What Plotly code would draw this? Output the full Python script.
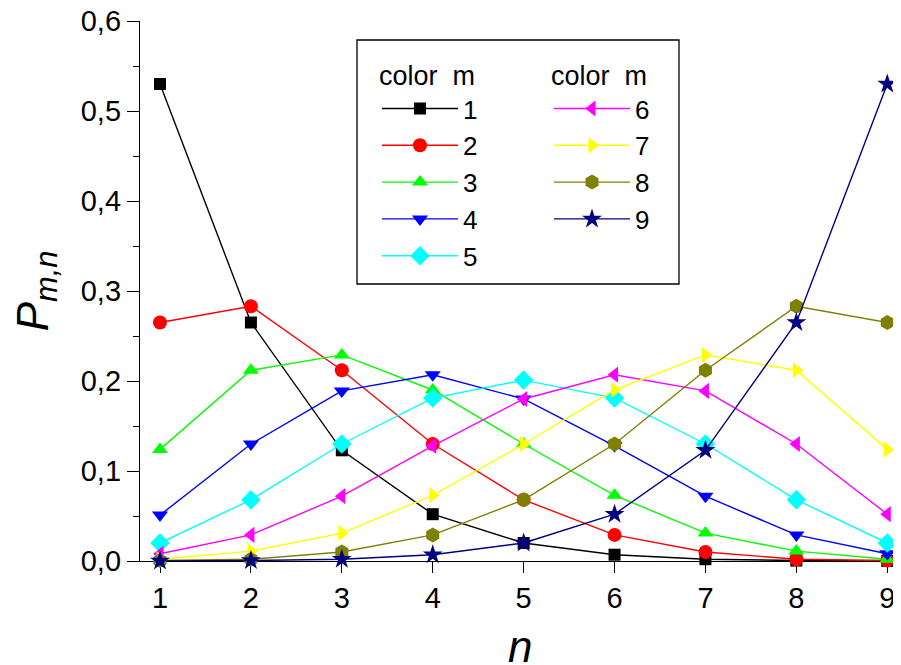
import plotly.graph_objects as go

n_values = [1, 2, 3, 4, 5, 6, 7, 8, 9]
m_labels = ["1", "2", "3", "4", "5", "6", "7", "8", "9"]

p_m1 = [0.530, 0.265, 0.123, 0.052, 0.020, 0.007, 0.002, 0.0005, 0.0001]
p_m2 = [0.265, 0.283, 0.212, 0.130, 0.068, 0.029, 0.010, 0.002, 0.0005]
p_m3 = [0.124, 0.212, 0.229, 0.190, 0.130, 0.073, 0.031, 0.011, 0.002]
p_m4 = [0.051, 0.130, 0.189, 0.207, 0.180, 0.128, 0.072, 0.029, 0.008]
p_m5 = [0.020, 0.068, 0.130, 0.181, 0.201, 0.181, 0.130, 0.068, 0.020]
p_m6 = [0.008, 0.029, 0.072, 0.128, 0.180, 0.207, 0.189, 0.130, 0.052]
p_m7 = [0.002, 0.011, 0.031, 0.073, 0.130, 0.190, 0.229, 0.212, 0.124]
p_m8 = [0.0005, 0.002, 0.010, 0.029, 0.068, 0.130, 0.212, 0.283, 0.265]
p_m9 = [0.0001, 0.0005, 0.002, 0.007, 0.020, 0.052, 0.123, 0.265, 0.530]

series = [p_m1, p_m2, p_m3, p_m4, p_m5, p_m6, p_m7, p_m8, p_m9]
colors = ["#000000", "#ff0000", "#00ff00", "#0000ff", "#00ffff",
          "#ff00ff", "#ffff00", "#808000", "#000080"]
symbols = ["square", "circle", "triangle-up", "triangle-down", "diamond",
           "triangle-left", "triangle-right", "hexagon", "star"]
sizes = [12, 14, 14, 14, 15, 14, 14, 15, 15]

FONT = "Liberation Sans, Arial, Helvetica, sans-serif"

fig = go.Figure()
for i, (vals, col, sym, sz) in enumerate(zip(series, colors, symbols, sizes)):
    fig.add_trace(go.Scatter(
        x=n_values, y=vals, mode="lines+markers", name=m_labels[i],
        line=dict(color=col, width=1.4),
        marker=dict(color=col, symbol=sym, size=sz, line=dict(width=0)),
        cliponaxis=False,
        legend="legend" if i < 5 else "legend2",
    ))

# page body has an 8px margin; compensate so the plot area lands where intended
OFF = 8
W, H = 901 - OFF, 665 - OFF
L, R, T, B = 140 - OFF, 1, 21 - OFF, 104
pw, ph = W - L - R, H - T - B

def px_x(p):
    return (p - OFF - L) / pw

def px_y(p):
    return (H - B - (p - OFF)) / ph

legend_common = dict(
    bgcolor="rgba(0,0,0,0)", borderwidth=0,
    font=dict(family=FONT, size=26, color="black"),
    xanchor="left", yanchor="top", itemwidth=76,
    tracegroupgap=0,
)

fig.update_layout(
    width=W, height=H,
    margin=dict(l=L, r=R, t=T, b=B, pad=0, autoexpand=False),
    paper_bgcolor="white", plot_bgcolor="white",
    separators=",.",
    font=dict(family=FONT, size=29, color="black"),
    showlegend=True,
    legend=dict(x=px_x(377), y=px_y(50),
                title=dict(text="color&nbsp;&nbsp;m", font=dict(family=FONT, size=27)),
                **legend_common),
    legend2=dict(x=px_x(549), y=px_y(50),
                 title=dict(text="color&nbsp;&nbsp;m", font=dict(family=FONT, size=27)),
                 **legend_common),
    shapes=[dict(type="rect", xref="paper", yref="paper",
                 x0=px_x(357), x1=px_x(679), y0=px_y(284), y1=px_y(40),
                 line=dict(color="black", width=1.3), fillcolor="rgba(0,0,0,0)")],
    annotations=[dict(text="<i>n</i>", xref="paper", yref="paper",
                      x=px_x(520), y=px_y(646), xanchor="center", yanchor="middle",
                      showarrow=False, font=dict(family=FONT, size=44, color="black"))],
    xaxis=dict(
        range=[0.78, 9.14], tickmode="linear", tick0=1, dtick=1,
        ticks="outside", ticklen=11, tickwidth=1.3, tickcolor="black",
        showline=True, linecolor="black", linewidth=1.3,
        showgrid=False, zeroline=False, layer="below traces", automargin=False,
        ticklabeloverflow="allow",
        tickfont=dict(family=FONT, size=29),
    ),
    yaxis=dict(
        range=[0, 0.6], tickmode="linear", tick0=0, dtick=0.1, tickformat=".1f",
        ticks="outside", ticklen=12, tickwidth=1.3, tickcolor="black",
        minor=dict(ticks="outside", ticklen=6, dtick=0.05, tickwidth=1.3, tickcolor="black", showgrid=False),
        showline=True, linecolor="black", linewidth=1.3,
        showgrid=False, zeroline=False, layer="below traces", automargin=False,
        ticklabeloverflow="allow",
        tickfont=dict(family=FONT, size=29),
        title=dict(text="<i>P</i><sub><i>m,n</i></sub>", font=dict(family=FONT, size=44), standoff=24),
    ),
)

fig.write_html("out.html")
